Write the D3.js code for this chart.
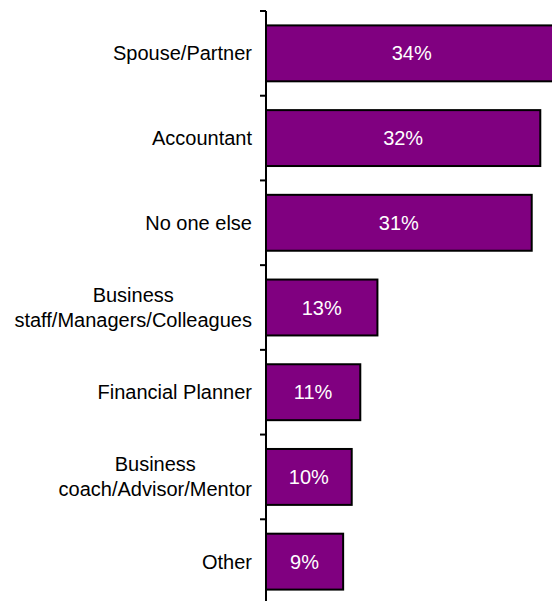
<!DOCTYPE html>
<html>
<head>
<meta charset="utf-8">
<script src="https://cdn.jsdelivr.net/npm/d3@7"></script>
<style>
  html, body { margin: 0; padding: 0; background: #fff; }
  svg { display: block; font-family: "Liberation Sans", Arial, Helvetica, sans-serif; }
</style>
</head>
<body>
<svg id="chart" width="552" height="601"></svg>
<script>
// Who business owners turn to (share of respondents)
const categories = [
  ["Spouse/Partner"],
  ["Accountant"],
  ["No one else"],
  ["Business", "staff/Managers/Colleagues"],
  ["Financial Planner"],
  ["Business", "coach/Advisor/Mentor"],
  ["Other"]
];
const values = [34, 32, 31, 13, 11, 10, 9];
const valueLabels = ["34%", "32%", "31%", "13%", "11%", "10%", "9%"];

const data = categories.map((lines, i) => ({
  key: lines.join(" "), lines, value: values[i], label: valueLabels[i]
}));

const svg = d3.select("#chart");
const axisX = 266;
const plotTop = 11, plotBottom = 604;

const x = d3.scaleLinear().domain([0, 35]).range([axisX, axisX + 300]);
const y = d3.scaleBand()
  .domain(data.map(d => d.key))
  .range([plotTop, plotBottom])
  .paddingInner(0.34)
  .paddingOuter(0.17);

const step = y.step();
const gap = step * y.paddingInner() / 2;

// bars
svg.append("g").selectAll("rect")
  .data(data).join("rect")
  .attr("x", x(0))
  .attr("y", d => y(d.key))
  .attr("width", d => x(d.value) - x(0))
  .attr("height", y.bandwidth())
  .attr("fill", "#800080")
  .attr("stroke", "#000")
  .attr("stroke-width", 2);

// value labels inside bars
svg.append("g").selectAll("text")
  .data(data).join("text")
  .attr("x", d => (x(0) + x(d.value)) / 2)
  .attr("y", d => y(d.key) + y.bandwidth() / 2)
  .attr("dy", "0.35em")
  .attr("text-anchor", "middle")
  .attr("fill", "#fff")
  .attr("font-size", 20)
  .text(d => d.label);

// vertical axis with ticks between categories
const axis = svg.append("g");
axis.append("line")
  .attr("x1", axisX).attr("x2", axisX)
  .attr("y1", plotTop).attr("y2", plotBottom)
  .attr("stroke", "#000").attr("stroke-width", 2);
const boundaries = data.map(d => y(d.key) - gap).concat([y(data[data.length - 1].key) + y.bandwidth() + gap]);
axis.selectAll("line.tick")
  .data(boundaries).join("line")
  .attr("class", "tick")
  .attr("x1", axisX - 6).attr("x2", axisX)
  .attr("y1", d => d).attr("y2", d => d)
  .attr("stroke", "#000").attr("stroke-width", 2);

// category labels, right-aligned block with centred lines
const lineH = 25;
const labels = svg.append("g")
  .attr("font-size", 20)
  .attr("fill", "#000");
data.forEach(d => {
  const cy = y(d.key) + y.bandwidth() / 2;
  const t = labels.append("text").attr("text-anchor", "end");
  const n = d.lines.length;
  d.lines.forEach((ln, i) => {
    t.append("tspan")
      .attr("x", axisX - 14)
      .attr("y", cy + (i - (n - 1) / 2) * lineH)
      .attr("dy", "0.35em")
      .text(ln);
  });
  if (n > 1) {
    // centre each line within the widest line of the block
    const spans = t.selectAll("tspan").nodes();
    const widths = spans.map(s => s.getComputedTextLength());
    const maxW = d3.max(widths);
    const center = axisX - 14 - maxW / 2;
    t.attr("text-anchor", "middle");
    spans.forEach(s => d3.select(s).attr("x", center));
  }
});
</script>
</body>
</html>
